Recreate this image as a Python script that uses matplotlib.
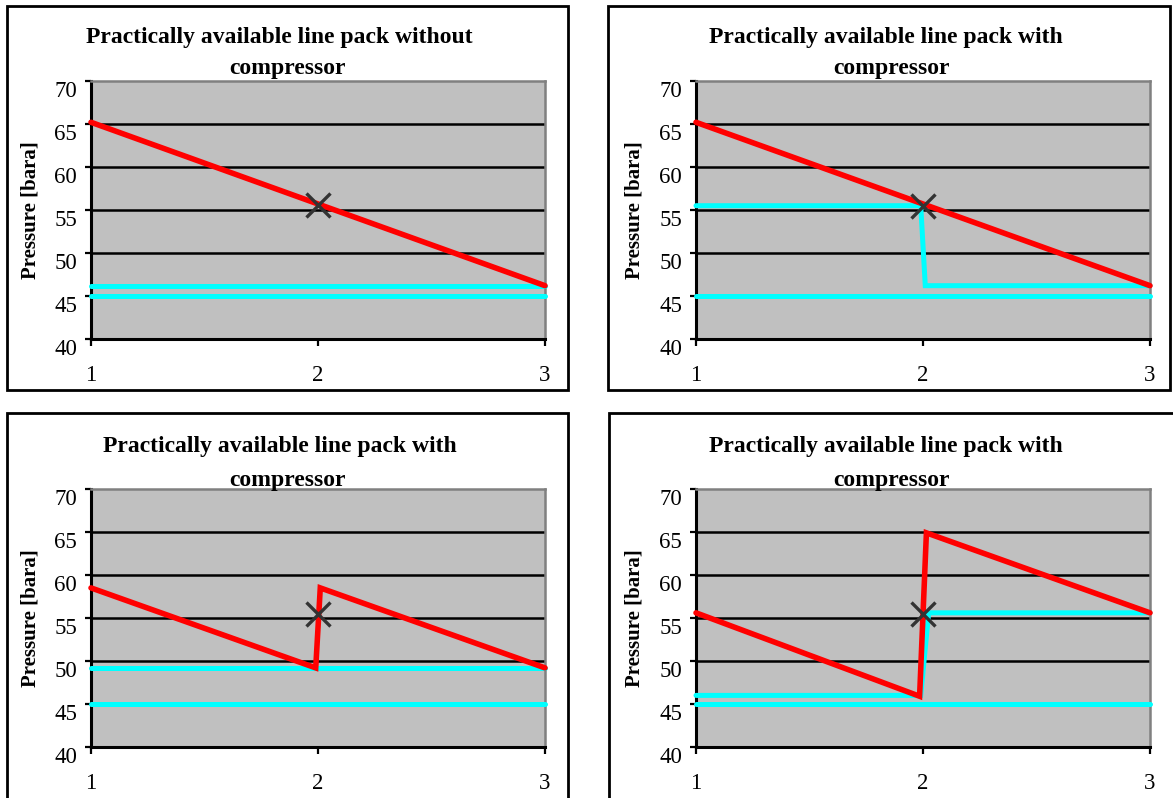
import matplotlib.pyplot as plt
from matplotlib.patches import Rectangle

W, H = 1173, 798
plt.rcParams['font.family'] = ['Liberation Serif', 'DejaVu Serif']

# ---- data ----
title_line1 = ["Practically available line pack without",
               "Practically available line pack with",
               "Practically available line pack with",
               "Practically available line pack with"]
title_line2 = ["compressor", "compressor", "compressor", "compressor"]
y_label = "Pressure [bara]"
x_ticks = [1, 2, 3]
y_ticks = [40, 45, 50, 55, 60, 65, 70]
grid_levels = [45, 50, 55, 60, 65]

# panel 1: no compressor
p1_red_x = [1, 3]
p1_red_y = [65.2, 46.2]
p1_cyan_a_x = [1, 3]
p1_cyan_a_y = [46.2, 46.2]
p1_cyan_b_x = [1, 3]
p1_cyan_b_y = [45.0, 45.0]
p1_mark = (2, 55.6)

# panel 2
p2_red_x = [1, 3]
p2_red_y = [65.2, 46.2]
p2_cyan_a_x = [1, 1.99, 2.01, 3]
p2_cyan_a_y = [55.5, 55.5, 46.2, 46.2]
p2_cyan_b_x = [1, 3]
p2_cyan_b_y = [45.0, 45.0]
p2_mark = (2, 55.5)

# panel 3
p3_red_x = [1, 1.99, 2.01, 3]
p3_red_y = [58.5, 49.2, 58.5, 49.2]
p3_cyan_a_x = [1, 3]
p3_cyan_a_y = [49.2, 49.2]
p3_cyan_b_x = [1, 3]
p3_cyan_b_y = [45.0, 45.0]
p3_mark = (2, 55.5)

# panel 4
p4_red_x = [1, 1.985, 2.015, 3]
p4_red_y = [55.6, 45.9, 64.9, 55.6]
p4_cyan_a_x = [1, 1.99, 2.025, 3]
p4_cyan_a_y = [46.0, 46.0, 55.6, 55.6]
p4_cyan_b_x = [1, 3]
p4_cyan_b_y = [45.0, 45.0]
p4_mark = (2, 55.5)

panels = [
    dict(red=(p1_red_x, p1_red_y), cyan=[(p1_cyan_a_x, p1_cyan_a_y), (p1_cyan_b_x, p1_cyan_b_y)], mark=p1_mark),
    dict(red=(p2_red_x, p2_red_y), cyan=[(p2_cyan_a_x, p2_cyan_a_y), (p2_cyan_b_x, p2_cyan_b_y)], mark=p2_mark),
    dict(red=(p3_red_x, p3_red_y), cyan=[(p3_cyan_a_x, p3_cyan_a_y), (p3_cyan_b_x, p3_cyan_b_y)], mark=p3_mark),
    dict(red=(p4_red_x, p4_red_y), cyan=[(p4_cyan_a_x, p4_cyan_a_y), (p4_cyan_b_x, p4_cyan_b_y)], mark=p4_mark),
]

# ---- layout (pixels, origin top-left) ----
plot_x = [(91, 545), (696, 1150), (91, 545), (696, 1150)]
plot_y = [(81, 339), (81, 339), (489, 747), (489, 747)]
boxes = [(7, 6, 568, 390), (608, 6, 1170, 390), (7, 413, 568, 810), (609, 413, 1185, 810)]
title1_x = [279, 886, 280, 886]
title2_x = [288, 891, 288, 891]
title_base = [(43, 74), (43, 74), (452, 486), (452, 486)]
ylabel_x = [30, 635, 30, 635]


def fx(px):
    return px / W


def fy(py):
    return 1 - py / H


fig = plt.figure(figsize=(W / 100, H / 100), dpi=100)

for i, p in enumerate(panels):
    x0, x1 = plot_x[i]
    y0, y1 = plot_y[i]
    ax = fig.add_axes([fx(x0), fy(y1), (x1 - x0) / W, (y1 - y0) / H])
    ax.set_facecolor("#C0C0C0")
    ax.set_xlim(1, 3)
    ax.set_ylim(40, 70)

    for g in grid_levels:
        ax.axhline(g, color="black", lw=1.8, zorder=1)

    for cx, cy in p["cyan"]:
        ax.plot(cx, cy, color="#00FFFF", lw=3.6, solid_capstyle="round",
                solid_joinstyle="miter", zorder=3, clip_on=False)
    rx, ry = p["red"]
    ax.plot(rx, ry, color="#FF0000", lw=4.0, solid_capstyle="round",
            solid_joinstyle="miter", zorder=4, clip_on=False)
    ax.plot([p["mark"][0]], [p["mark"][1]], marker="x", ms=17, mew=2.4,
            color="#333333", ls="none", zorder=5, clip_on=False)

    ax.spines["left"].set_color("black")
    ax.spines["bottom"].set_color("black")
    ax.spines["left"].set_linewidth(2.2)
    ax.spines["bottom"].set_linewidth(2.2)
    ax.spines["top"].set_color("#808080")
    ax.spines["right"].set_color("#808080")
    ax.spines["top"].set_linewidth(1.8)
    ax.spines["right"].set_linewidth(1.8)

    ax.set_xticks(x_ticks, [str(v) for v in x_ticks])
    ax.set_yticks(y_ticks, [str(v) for v in y_ticks], va="top")
    ax.tick_params(axis="y", direction="out", length=4, width=1.6, pad=6,
                   labelsize=16.5, color="black")
    ax.tick_params(axis="x", direction="out", length=5, width=1.6, pad=14,
                   labelsize=16.5, color="black")

    fig.text(fx(title1_x[i]), fy(title_base[i][0]), title_line1[i],
             ha="center", va="baseline", fontsize=17, fontweight="bold")
    fig.text(fx(title2_x[i]), fy(title_base[i][1]), title_line2[i],
             ha="center", va="baseline", fontsize=17, fontweight="bold", zorder=10)
    fig.text(fx(ylabel_x[i]), fy((y0 + y1) / 2), y_label, rotation=90,
             ha="center", va="center", fontsize=15, fontweight="bold")

    bx0, by0, bx1, by1 = boxes[i]
    fig.add_artist(Rectangle((fx(bx0), fy(by1)), (bx1 - bx0) / W, (by1 - by0) / H,
                             transform=fig.transFigure, fill=False,
                             ec="black", lw=2))

fig.savefig("out.png", dpi=100)
